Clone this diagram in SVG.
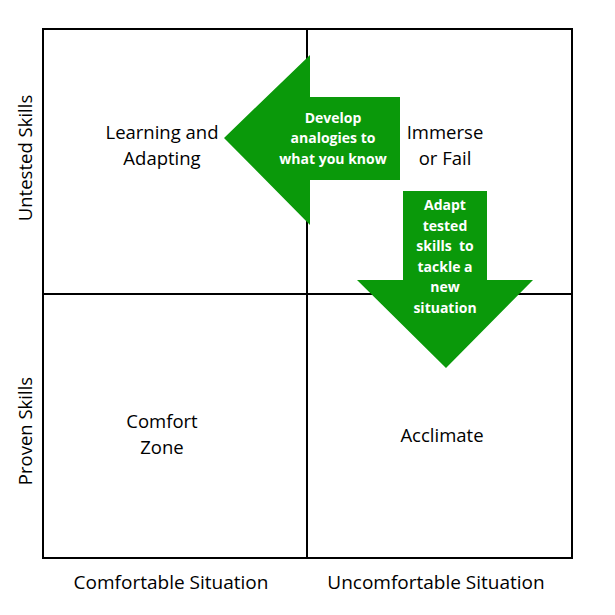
<svg xmlns="http://www.w3.org/2000/svg" width="615" height="615" viewBox="0 0 615 615">
<style>
.q{font-family:"Open Sans","Liberation Sans",sans-serif;font-size:18.5px;fill:#000;text-anchor:middle}
.a{font-family:"Open Sans","Liberation Sans",sans-serif;font-size:14px;font-weight:bold;fill:#fff;text-anchor:middle}
.g{fill:#0a990a}
.ln{stroke:#000;stroke-width:2;fill:none}
</style>
<rect width="615" height="615" fill="#fff"/>
<g id="grid">
<rect class="ln" x="43" y="29" width="529" height="529"/>
<line class="ln" x1="307" y1="29" x2="307" y2="558"/>
<line class="ln" x1="43" y1="294" x2="572" y2="294"/>
</g>
<g id="q-learning"><text class="q" x="162" y="139">Learning and</text><text class="q" x="162" y="165">Adapting</text></g>
<g id="q-immerse"><text class="q" x="445" y="139">Immerse</text><text class="q" x="445" y="165">or Fail</text></g>
<g id="q-comfort"><text class="q" x="162" y="428">Comfort</text><text class="q" x="162" y="454">Zone</text></g>
<g id="q-acclimate"><text class="q" x="442" y="442">Acclimate</text></g>
<g id="axis-x1"><text class="q" x="171" y="589" style="font-size:19px">Comfortable Situation</text></g>
<g id="axis-x2"><text class="q" x="436" y="589" style="font-size:19px">Uncomfortable Situation</text></g>
<g id="axis-y1"><text class="q" transform="translate(32,158) rotate(-90)">Untested Skills</text></g>
<g id="axis-y2"><text class="q" transform="translate(32,431) rotate(-90)">Proven Skills</text></g>
<g id="connectors">
<g id="arrow-left">
<polygon class="g" points="224,138 310,55 310,97 400,97 400,180 310,180 310,225"/>
<text class="a" x="333" y="123">Develop</text>
<text class="a" x="333" y="143">analogies to</text>
<text class="a" x="333" y="164">what you know</text>
</g>
<g id="arrow-down">
<polygon class="g" points="403,191 487,191 487,280 533,280 446,368 357,280 403,280"/>
<text class="a" x="445" y="210">Adapt</text>
<text class="a" x="445" y="231">tested</text>
<text class="a" x="445" y="251" style="white-space:pre">skills  to</text>
<text class="a" x="445" y="272">tackle a</text>
<text class="a" x="445" y="292">new</text>
<text class="a" x="445" y="313">situation</text>
</g>
</g>
</svg>
